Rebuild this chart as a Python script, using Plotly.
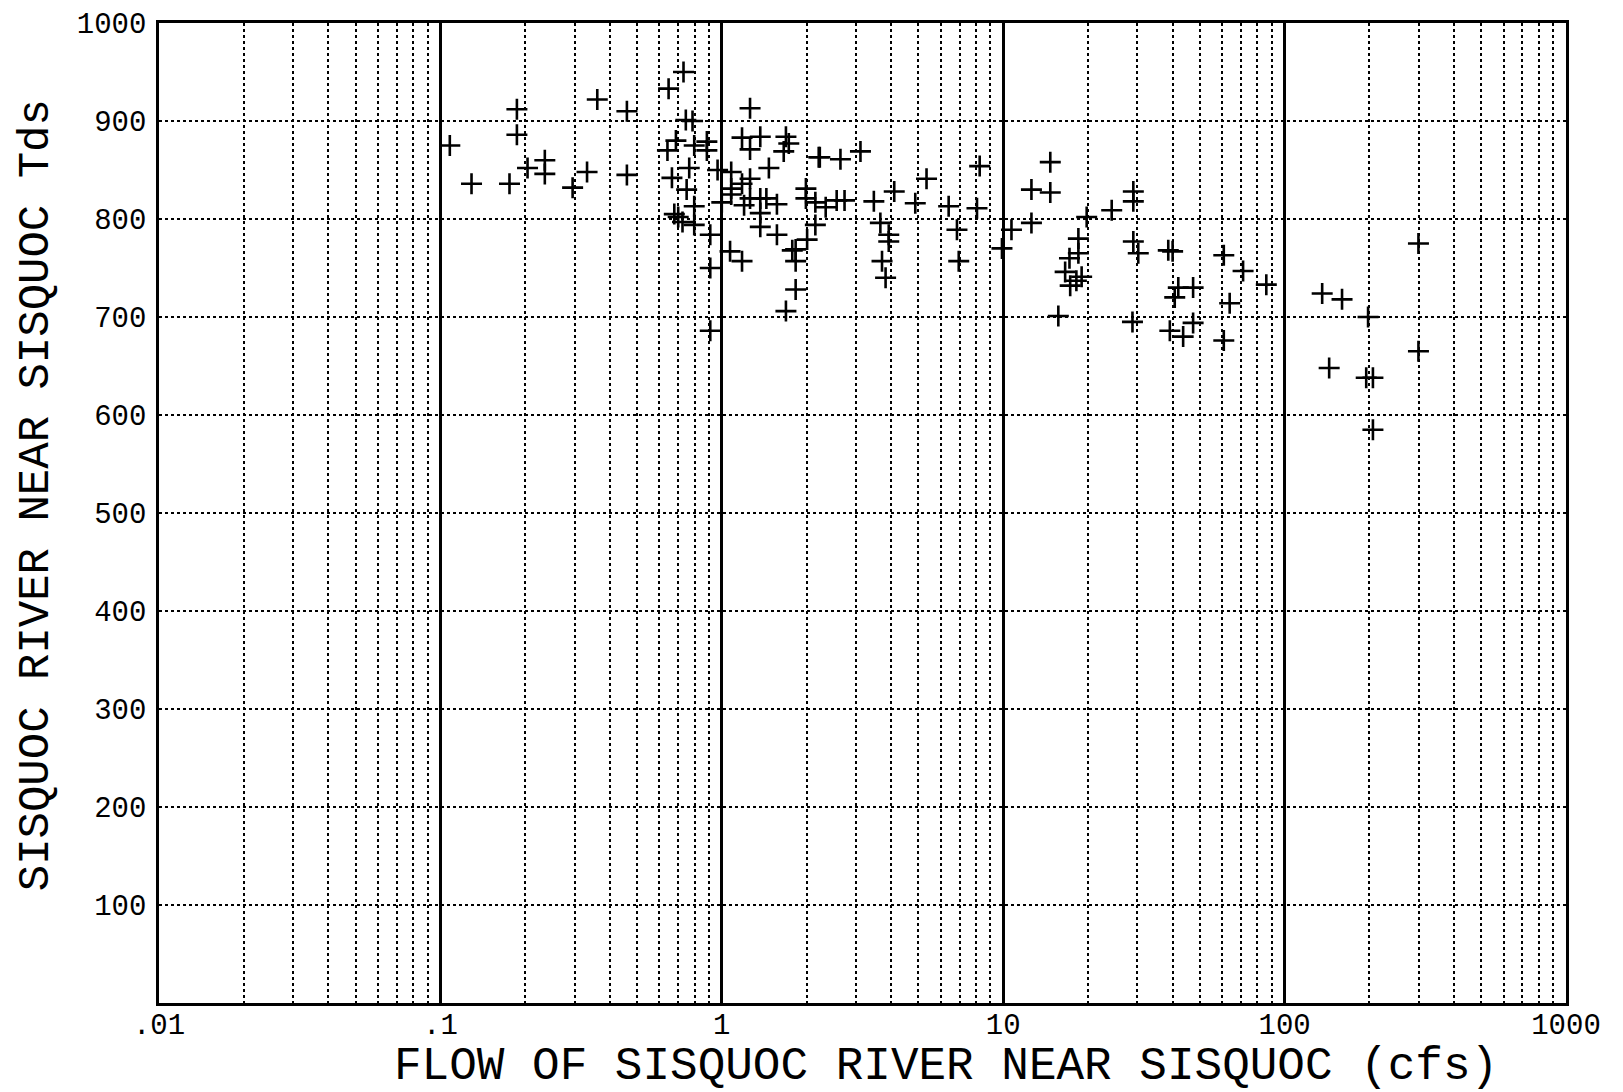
import plotly.graph_objects as go

# Flow (cfs) and TDS readings
flow = [
    0.108, 0.129, 0.176, 0.187, 0.187, 0.204, 0.235, 0.235, 0.295, 0.332,
    0.361, 0.46, 0.46, 0.647, 0.731, 0.687, 0.641, 0.745, 0.787, 0.798,
    0.885, 0.885, 0.766, 0.665, 0.75, 0.798, 0.678, 0.725, 0.798, 0.70,
    0.91, 0.91, 0.91, 0.966, 1.08, 1.0, 1.08, 1.08, 1.07, 1.18,
    1.26, 1.18, 1.26, 1.37, 1.47, 1.18, 1.26, 1.20, 1.26, 1.37,
    1.44, 1.57, 1.37, 1.37, 1.57, 1.69, 1.73, 1.66, 1.83, 1.78,
    1.83, 1.83, 1.69, 2.01, 2.15, 1.99, 1.99, 2.21, 2.15, 2.64,
    3.11, 2.23, 2.34, 2.56, 2.73, 3.47, 3.66, 3.92, 3.92, 3.71,
    3.82, 4.10, 4.87, 5.34, 6.40, 6.85, 6.95, 8.25, 8.07, 10.7,
    9.9, 12.6, 12.6, 14.7, 14.7, 19.8, 18.5, 18.5, 17.2, 16.6,
    17.3, 18.2, 19.0, 15.7, 24.3, 29.0, 29.0, 29.0, 30.2, 28.8,
    38.6, 40.0, 41.9, 40.7, 47.3, 47.3, 39.1, 43.6, 60.8, 63.8,
    71.2, 60.8, 86.1, 136, 160, 198, 144, 195, 206, 299,
    299, 206,
]
tds = [
    875, 836, 836, 912, 886, 852, 860, 846, 832, 848,
    922, 910, 845, 933, 950, 880, 870, 901, 900, 875,
    879, 870, 852, 842, 830, 813, 805, 797, 794, 802,
    784, 750, 686, 850, 848, 817, 831, 825, 767, 757,
    913, 883, 871, 884, 852, 836, 841, 814, 821, 821,
    821, 815, 806, 792, 784, 884, 877, 869, 769, 768,
    757, 728, 706, 779, 794, 831, 821, 863, 817, 861,
    869, 863, 812, 819, 819, 818, 796, 784, 777, 757,
    740, 828, 816, 841, 813, 789, 757, 854, 811, 789,
    770, 830, 796, 858, 827, 802, 780, 765, 760, 746,
    732, 737, 741, 701, 809, 828, 818, 777, 765, 695,
    768, 767, 730, 720, 730, 694, 686, 680, 763, 714,
    747, 676, 733, 724, 718, 700, 648, 638, 638, 775,
    665, 585,
]

x_tickvals = [0.01, 0.1, 1, 10, 100, 1000]
x_ticktext = [".01", ".1", "1", "10", "100", "1000"]
y_tickvals = [100, 200, 300, 400, 500, 600, 700, 800, 900, 1000]
y_ticktext = ["100", "200", "300", "400", "500", "600", "700", "800", "900", "1000"]

FONT = "Liberation Mono"

fig = go.Figure()
fig.add_trace(go.Scatter(
    x=flow, y=tds, mode="markers",
    marker=dict(symbol="cross-thin", size=15, line=dict(color="black", width=2.6)),
    showlegend=False, cliponaxis=False,
))

fig.update_layout(
    width=1615, height=1084,
    margin=dict(l=151, r=57, t=15, b=89, autoexpand=False),
    paper_bgcolor="white", plot_bgcolor="white",
    font=dict(family=FONT, color="black"),
    xaxis=dict(
        type="log", range=[-2, 3], automargin=False,
        tickvals=x_tickvals, ticktext=x_ticktext,
        tickfont=dict(size=29, family=FONT),
        showgrid=True, gridcolor="black", gridwidth=2.5,
        showline=True, linecolor="black", linewidth=2.5, mirror=True,
        ticks="", zeroline=False, ticklabelstandoff=-7,
        ticklabeloverflow="allow",
        minor=dict(dtick="D1", showgrid=True, gridcolor="black",
                   gridwidth=1.6, griddash="dot", ticks=""),
    ),
    yaxis=dict(
        range=[0, 1000], automargin=False,
        tickvals=y_tickvals, ticktext=y_ticktext,
        tickfont=dict(size=29, family=FONT),
        showgrid=True, gridcolor="black", gridwidth=1.6, griddash="dot",
        showline=True, linecolor="black", linewidth=2.5, mirror=True,
        ticks="", zeroline=False, ticklabelstandoff=4,
        ticklabeloverflow="allow",
    ),
    annotations=[
        dict(text="FLOW OF SISQUOC RIVER NEAR SISQUOC (cfs)",
             xref="paper", yref="paper", x=0.559, y=-0.065,
             xanchor="center", yanchor="middle", showarrow=False,
             font=dict(size=46, family=FONT, color="black")),
        dict(text="SISQUOC RIVER NEAR SISQUOC Tds",
             xref="paper", yref="paper", x=-0.0875, y=0.518,
             xanchor="center", yanchor="middle", showarrow=False,
             textangle=-90,
             font=dict(size=44, family=FONT, color="black")),
    ],
)

fig.write_html("out.html")
